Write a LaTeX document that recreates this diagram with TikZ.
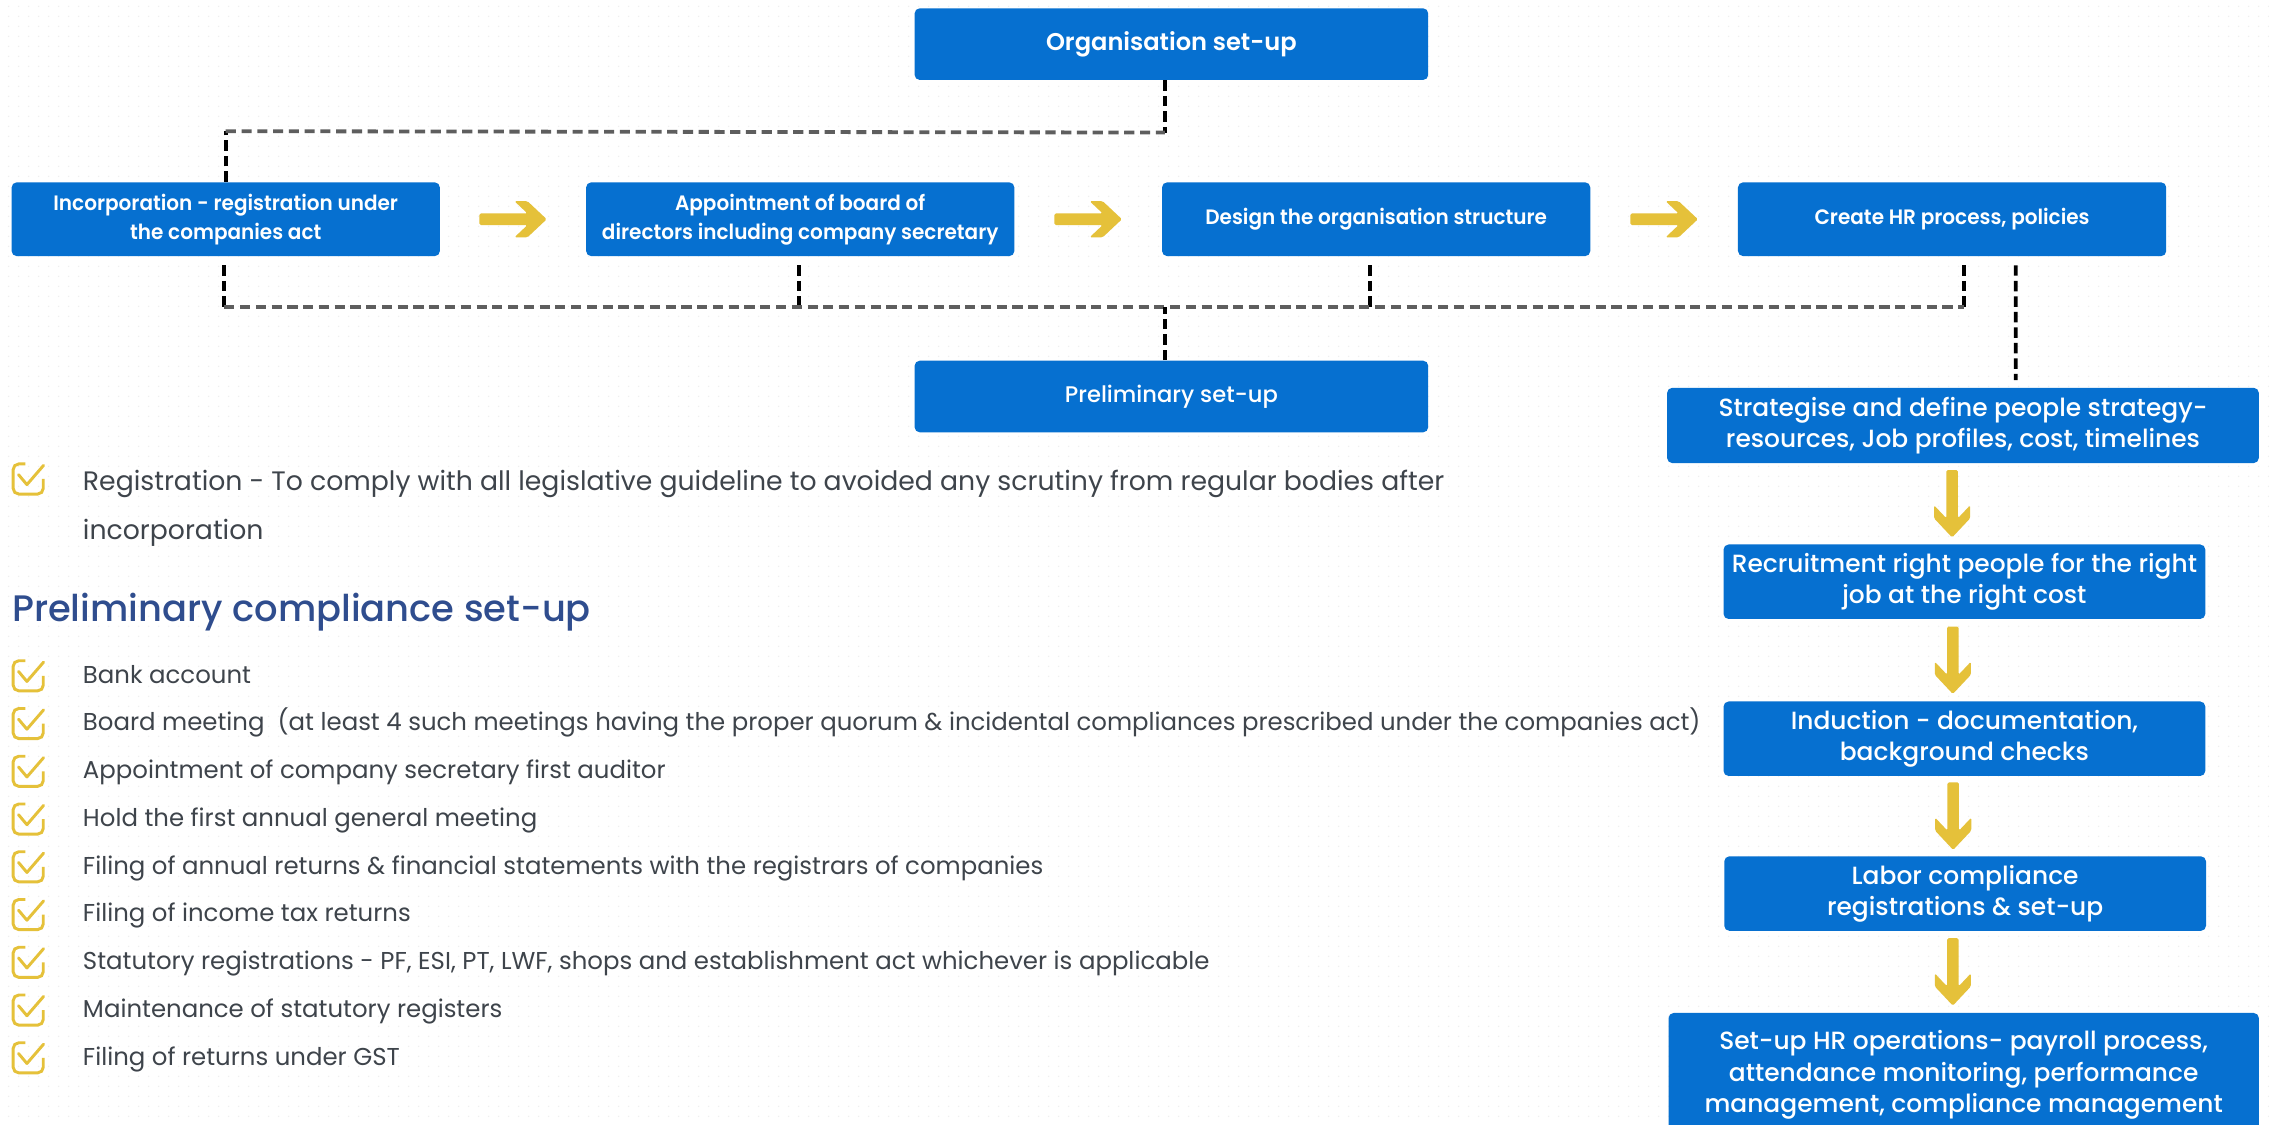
\documentclass[tikz,border=0pt]{standalone}
\usepackage{fontspec}
\setmainfont{Poppins}
\newfontfamily\semibold{Poppins SemiBold}
\newfontfamily\semiboldnarrow{Poppins SemiBold}[FakeStretch=0.96]
\newfontfamily\medium{Poppins Medium}
\usetikzlibrary{calc,patterns.meta}

\definecolor{boxblue}{HTML}{0670D0}
\definecolor{arrowyellow}{HTML}{E5C13A}
\definecolor{listgray}{HTML}{3E444B}
\definecolor{headblue}{HTML}{2F4D8E}
\definecolor{busgray}{HTML}{5E5E5E}

\tikzset{
    bluebox/.style={fill=boxblue, text=white, rounded corners=2pt, align=center, inner sep=0pt},
    headbox/.style={bluebox, minimum width=7.10cm, minimum height=0.99cm, font=\semibold\fontsize{9.5}{11}\selectfont},
    rowbox/.style={bluebox, minimum width=5.92cm, minimum height=1.02cm, font=\semiboldnarrow\fontsize{8.2}{11.4}\selectfont},
    sidebox/.style={bluebox, minimum width=6.66cm, minimum height=1.03cm, font=\medium\fontsize{9.8}{12.4}\selectfont},
    listtext/.style={inner sep=0pt, text=listgray, font=\fontsize{9.6}{19.3}\selectfont},
    headtext/.style={inner sep=0pt, text=headblue, font=\medium\fontsize{14.5}{16}\selectfont},
    hdash/.style={busgray, line width=1.5pt, dash pattern=on 4pt off 2.2pt},
    vdash/.style={black, line width=1.5pt, dash pattern=on 4.1pt off 2pt},
    yarrow/.pic={
        \fill[arrowyellow, rounded corners=0.6pt] (-23.3,-4) -- (10,-4) -- (1,-12.5) -- (10,-12.5) -- (23.3,0)
            -- (10,12.5) -- (1,12.5) -- (10,4) -- (-23.3,4) -- cycle;
    },
    checkicon/.pic={
        \draw[arrowyellow, line width=1.15pt, rounded corners=2.2pt] (-2,-10.4) -- (-10.4,-10.4) -- (-10.4,10.4) -- (10.4,10.4) -- (10.4,0);
        \draw[arrowyellow, line width=1.15pt, line cap=round, line join=round] (-6.7,-3) -- (-0.9,3.9) -- (10.6,-9.4);
    }
}

\begin{document}
\begin{tikzpicture}[x=0.02cm,y=-0.02cm]
    \useasboundingbox (0,0) rectangle (1568,777.4);
    \clip (0,0) rectangle (1568,777.4);
    \fill[white] (0,0) rectangle (1568,777.4);
    \fill[pattern={Dots[distance=0.14cm,radius=0.3pt]}, pattern color=black!7] (0,0) rectangle (1568,777.4);

    % set-up flow
    \node[headbox] (org) at (809.5,30.5) {Organisation set-up};
    \node[rowbox] (inc) at (156,151.5) {Incorporation - registration under\\the companies act};
    \node[rowbox] (app) at (553,151.5) {Appointment of board of\\directors including company secretary};
    \node[rowbox] (des) at (951,151.5) {Design the organisation structure};
    \node[rowbox] (hr) at (1349,151.5) {Create HR process, policies};
    \node[headbox, font=\medium\fontsize{8.9}{11}\selectfont] (prelim) at (809.5,274) {Preliminary set-up};

    \pic at ($(inc.east)!.5!(app.west)$) {yarrow};
    \pic at ($(app.east)!.5!(des.west)$) {yarrow};
    \pic at ($(des.east)!.5!(hr.west)$) {yarrow};

    % HR flow
    \node[sidebox, minimum width=8.18cm, minimum height=1.04cm] (strat) at (1356.5,294) {Strategise and define people strategy-\\resources, Job profiles, cost, timelines};
    \node[sidebox] (recr) at (1357.5,402) {Recruitment right people for the right\\job at the right cost};
    \node[sidebox] (ind) at (1357.5,510.5) {Induction - documentation,\\background checks};
    \node[sidebox] (lab) at (1358,617.5) {Labor compliance\\registrations \& set-up};
    \node[sidebox, minimum width=8.16cm, minimum height=1.72cm] (ops) at (1357,743) {Set-up HR operations- payroll process,\\attendance monitoring, performance\\management, compliance management};

    \pic[rotate=-90] at ($(strat.south)!.5!(recr.north)+(-8,0)$) {yarrow};
    \pic[rotate=-90] at ($(recr.south)!.5!(ind.north)+(-8,0)$) {yarrow};
    \pic[rotate=-90] at ($(ind.south)!.5!(lab.north)+(-8,0)$) {yarrow};
    \pic[rotate=-90] at ($(lab.south)!.5!(ops.north)+(-8,0)$) {yarrow};

    % dashed links
    \draw[vdash] ($(org.south)+(-4.5,0)$) -- ++(0,36) coordinate (topR);
    \draw[vdash] (inc.north) -- ++(0,-35) coordinate (topL);
    \draw[hdash] (topL) -- (topR);
    \foreach \b/\dx in {inc/-1,app/-1,des/-4,hr/8}
        \draw[vdash] ($(\b.south)+(\dx,6)$) -- ++(0,29) coordinate (bus-\b);
    \draw[hdash] (bus-inc) -- (bus-hr);
    \draw[vdash] ($(prelim.north)+(-4.5,0)$) -- ++(0,-37);
    \draw[vdash] ($(hr.south)+(44,6)$) -- ($(strat.north)+(36.5,-5)$);

    % compliance list
    \pic at (19.5,331) {checkicon};
    \node[listtext, align=left, anchor=west, font=\fontsize{10.5}{19.3}\selectfont] (reg) at (57,351) {Registration - To comply with all legislative guideline to avoided any scrutiny from regular bodies after\\incorporation};
    \node[headtext, anchor=west] (head) at (8,423) {Preliminary compliance set-up};
    \foreach \t [count=\i] in {
        {Bank account},
        {Board meeting\ \ (at least 4 such meetings having the proper quorum \& incidental compliances prescribed under the companies act)},
        {Appointment of company secretary first auditor},
        {Hold the first annual general meeting},
        {Filing of annual returns \& financial statements with the registrars of companies},
        {Filing of income tax returns},
        {Statutory registrations - PF, ESI, PT, LWF, shops and establishment act whichever is applicable},
        {Maintenance of statutory registers},
        {Filing of returns under GST}} {
        \pic at (19.5,434+33*\i) {checkicon};
        \node[listtext, anchor=base west] (item\i) at (57,439+33*\i) {\t};
    }
\end{tikzpicture}
\end{document}
